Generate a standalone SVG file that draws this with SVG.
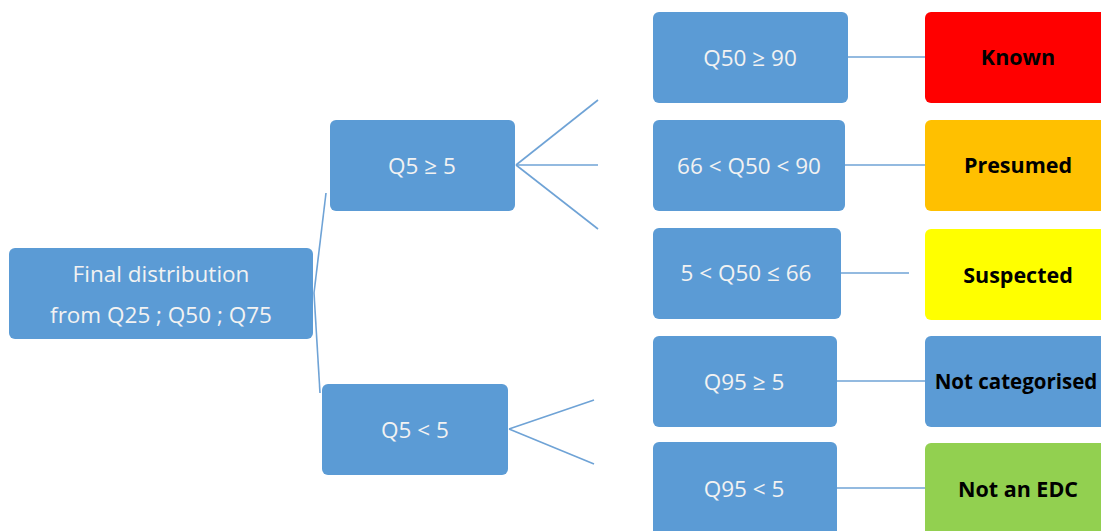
<svg xmlns="http://www.w3.org/2000/svg" width="1101" height="531" viewBox="0 0 1101 531">
<style>
.n{fill:#5B9BD5}
.t{font-family:"Open Sans","Liberation Sans",sans-serif;font-size:22.5px;fill:#F2F2F2;text-anchor:middle;dominant-baseline:central}
.b{font-family:"Open Sans","Liberation Sans",sans-serif;font-size:21.5px;font-weight:bold;fill:#000;text-anchor:middle;dominant-baseline:central}
.c line{stroke:#6FA3D6;stroke-width:1.6}
</style>
<rect width="1101" height="531" fill="#fff"/>
<g class="c" id="connectors">
<line x1="314" y1="293" x2="326" y2="193"/>
<line x1="314" y1="293" x2="320" y2="393"/>
<line x1="516" y1="165" x2="598" y2="100"/>
<line x1="516" y1="165" x2="598" y2="165"/>
<line x1="516" y1="165" x2="598" y2="229"/>
<line x1="509" y1="429" x2="594" y2="400"/>
<line x1="509" y1="429" x2="594" y2="464"/>
<line x1="848" y1="57" x2="925" y2="57"/>
<line x1="845" y1="165" x2="925" y2="165"/>
<line x1="841" y1="273" x2="909" y2="273"/>
<line x1="837" y1="381" x2="925" y2="381"/>
<line x1="837" y1="488" x2="925" y2="488"/>
</g>
<g id="root"><rect class="n" x="9" y="248" width="304" height="91" rx="6"/><text class="t" x="161" y="273">Final distribution</text><text class="t" x="161" y="314">from Q25 ; Q50 ; Q75</text></g>
<g id="q5ge"><rect class="n" x="330" y="120" width="185" height="91" rx="6"/><text class="t" x="422" y="165">Q5 ≥ 5</text></g>
<g id="q5lt"><rect class="n" x="322" y="384" width="186" height="91" rx="6"/><text class="t" x="415" y="429">Q5 &lt; 5</text></g>
<g id="q50ge90"><rect class="n" x="653" y="12" width="195" height="91" rx="6"/><text class="t" x="750" y="57">Q50 ≥ 90</text></g>
<g id="q50mid"><rect class="n" x="653" y="120" width="192" height="91" rx="6"/><text class="t" x="749" y="165">66 &lt; Q50 &lt; 90</text></g>
<g id="q50low"><rect class="n" x="653" y="228" width="188" height="91" rx="6"/><text class="t" x="746" y="272">5 &lt; Q50 ≤ 66</text></g>
<g id="q95ge"><rect class="n" x="653" y="336" width="184" height="91" rx="6"/><text class="t" x="744" y="381">Q95 ≥ 5</text></g>
<g id="q95lt"><rect class="n" x="653" y="442" width="184" height="96" rx="6"/><text class="t" x="744" y="488">Q95 &lt; 5</text></g>
<g id="known"><rect x="925" y="12" width="190" height="91" rx="6" fill="#FF0000"/><text class="b" x="1018" y="56">Known</text></g>
<g id="presumed"><rect x="925" y="120" width="190" height="91" rx="6" fill="#FFC000"/><text class="b" x="1018" y="164">Presumed</text></g>
<g id="suspected"><rect x="925" y="229" width="190" height="91" rx="6" fill="#FFFF00"/><text class="b" x="1018" y="274">Suspected</text></g>
<g id="notcat"><rect x="925" y="336" width="190" height="91" rx="6" fill="#5B9BD5"/><text class="b" x="1016" y="381" style="font-size:20.5px">Not categorised</text></g>
<g id="notedc"><rect x="925" y="443" width="190" height="96" rx="6" fill="#92D050"/><text class="b" x="1018" y="488">Not an EDC</text></g>
</svg>
